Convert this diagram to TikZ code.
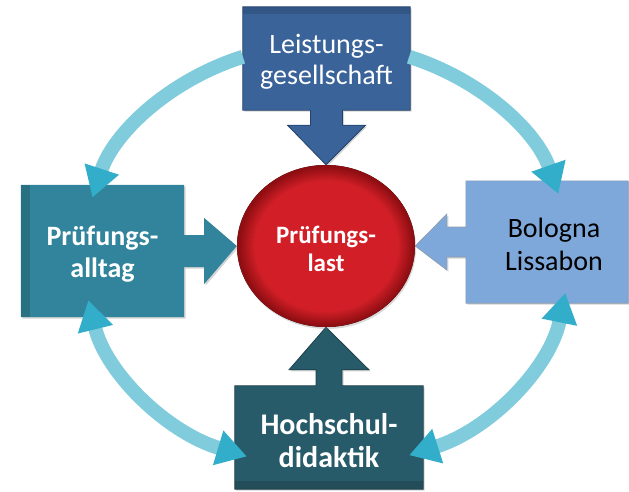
\documentclass[tikz,border=0pt]{standalone}
\usepackage{fontspec}
\setmainfont{Carlito}
\usetikzlibrary{arrows.meta,shadows,calc,shapes.geometric,backgrounds}
\definecolor{ringc}{HTML}{80CCDD}
\definecolor{headc}{HTML}{33AECA}
\definecolor{topc}{HTML}{3A6399}
\definecolor{topd}{HTML}{24426B}
\definecolor{leftc}{HTML}{31849B}
\definecolor{rightc}{HTML}{7FA8DA}
\definecolor{rightd}{HTML}{8E9CB0}
\definecolor{botc}{HTML}{285B69}
\definecolor{botd}{HTML}{1C3F4A}
\definecolor{redc}{HTML}{D21F27}
\definecolor{redd}{HTML}{8E0E12}
\newcommand\hstrut[1]{\rule{0pt}{#1pt}}
\newcommand\dstrut[1]{\rule[-#1pt]{0pt}{#1pt}}
\pgfdeclareradialshading{redball}{\pgfpoint{0bp}{0bp}}{color(0bp)=(redc); color(20bp)=(redc); color(24.5bp)=(redd); color(25bp)=(redd); color(50bp)=(redd)}
\begin{document}
\begin{tikzpicture}[x=1pt,y=1pt,
  box/.style={inner sep=0pt, align=center},
  shade/.style={drop shadow={opacity=0.35,shadow xshift=1.5pt,shadow yshift=-1.5pt}},
  ringone/.style={line width=14pt, draw=ringc, -{Triangle[length=30pt,width=34pt,color=headc]}},
  ringtwo/.style={line width=14pt, draw=ringc, {Triangle[length=30pt,width=34pt,color=headc]}-{Triangle[length=30pt,width=34pt,color=headc]}}
]
\useasboundingbox (0,0) rectangle (629,491);

% nodes
\node[box, ellipse, minimum width=178pt, minimum height=162pt, text=white,
  font=\fontsize{25}{28}\selectfont\bfseries] (circ) at (326,245) {\hstrut{29}Prüfungs-\\last\dstrut{7}};
\node[box, minimum width=167pt, minimum height=103pt, text=white, font=\fontsize{28}{31}\selectfont] (top) at (326.5,432.5) {\hstrut{30}Leistungs-\\gesellschaft\dstrut{8}};
\node[box, minimum width=163pt, minimum height=132pt, text=white, font=\fontsize{28}{32}\selectfont\bfseries] (left) at (102.5,240) {\hstrut{28}Prüfungs-\\alltag\dstrut{8}};
\node[box, minimum width=162pt, minimum height=122pt, text=black, font=\fontsize{28}{33}\selectfont] (right) at (547,249) {\hspace*{14pt}\hstrut{31}Bologna\\\hspace*{14pt}Lissabon\dstrut{8}};
\node[box, minimum width=188pt, minimum height=103pt, text=white, font=\fontsize{30}{33}\selectfont\bfseries] (bot) at (329,53.5) {\hstrut{35}Hochschul-\\didaktik\dstrut{8}};
\coordinate (ring) at (326,235);

\begin{scope}[on background layer]
% top box with arrow
\fill[topc, shade, draw=topd, line width=0.8pt] (top.south west) -- (top.north west) -- (top.north east) -- (top.south east)
  -- ($(top.south)+(16,0)$) -- ++(0,-15) -- ++(23,0) -- (circ.north) -- ($(top.south)+(-39,-15)$) -- ++(23,0) -- ++(0,15) -- cycle;
\fill[black, opacity=0.12] (top.north west) rectangle ($(top.north east)+(0,-7)$);
% left box with arrow
\fill[leftc, shade] (left.south west) -- (left.north west) -- (left.north east)
  -- ($(left.east)+(0,16)$) -- ++(20,0) -- ++(0,17) -- (circ.west) -- ($(left.east)+(20,-33)$) -- ++(0,17) -- ++(-20,0) -- (left.south east) -- cycle;
\fill[black, opacity=0.15] (left.south west) rectangle ($(left.north west)+(9,0)$);
% right box with arrow
\fill[rightc, shade, draw=rightd, line width=0.6pt] (right.south east) -- (right.north east) -- (right.north west)
  -- ($(right.west)+(0,15)$) -- ++(-19,0) -- ++(0,13) -- (circ.east) -- ($(right.west)+(-19,-28)$) -- ++(0,13) -- ++(19,0) -- (right.south west) -- cycle;
% bottom box with arrow
\fill[botc, shade, draw=botd, line width=0.8pt] (bot.north west) -- (bot.south west) -- (bot.south east) -- (bot.north east)
  -- ($(bot.north)+(13,0)$) -- ++(0,16) -- ++(27,0) -- (circ.south) -- ($(bot.north)+(-40,16)$) -- ++(27,0) -- ++(0,-16) -- cycle;
\fill[black, opacity=0.15] (bot.south west) rectangle ($(bot.south east)+(0,8)$);
% red circle
\fill[shading=redball, drop shadow={opacity=0.3,shadow xshift=1pt,shadow yshift=-2pt}] (circ.center) ellipse[x radius=89pt, y radius=81pt];
\end{scope}

% ring arrows
\draw[ringone] (ring) ++(110:243 and 212) arc[start angle=110, end angle=164, x radius=243, y radius=212];
\draw[ringone] (ring) ++(70:243 and 212) arc[start angle=70, end angle=17, x radius=243, y radius=212];
\draw[ringtwo] (ring) ++(192:243 and 212) arc[start angle=192, end angle=251, x radius=243, y radius=212];
\draw[ringtwo] (ring) ++(350:243 and 212) arc[start angle=350, end angle=290, x radius=243, y radius=212];
\end{tikzpicture}
\end{document}
